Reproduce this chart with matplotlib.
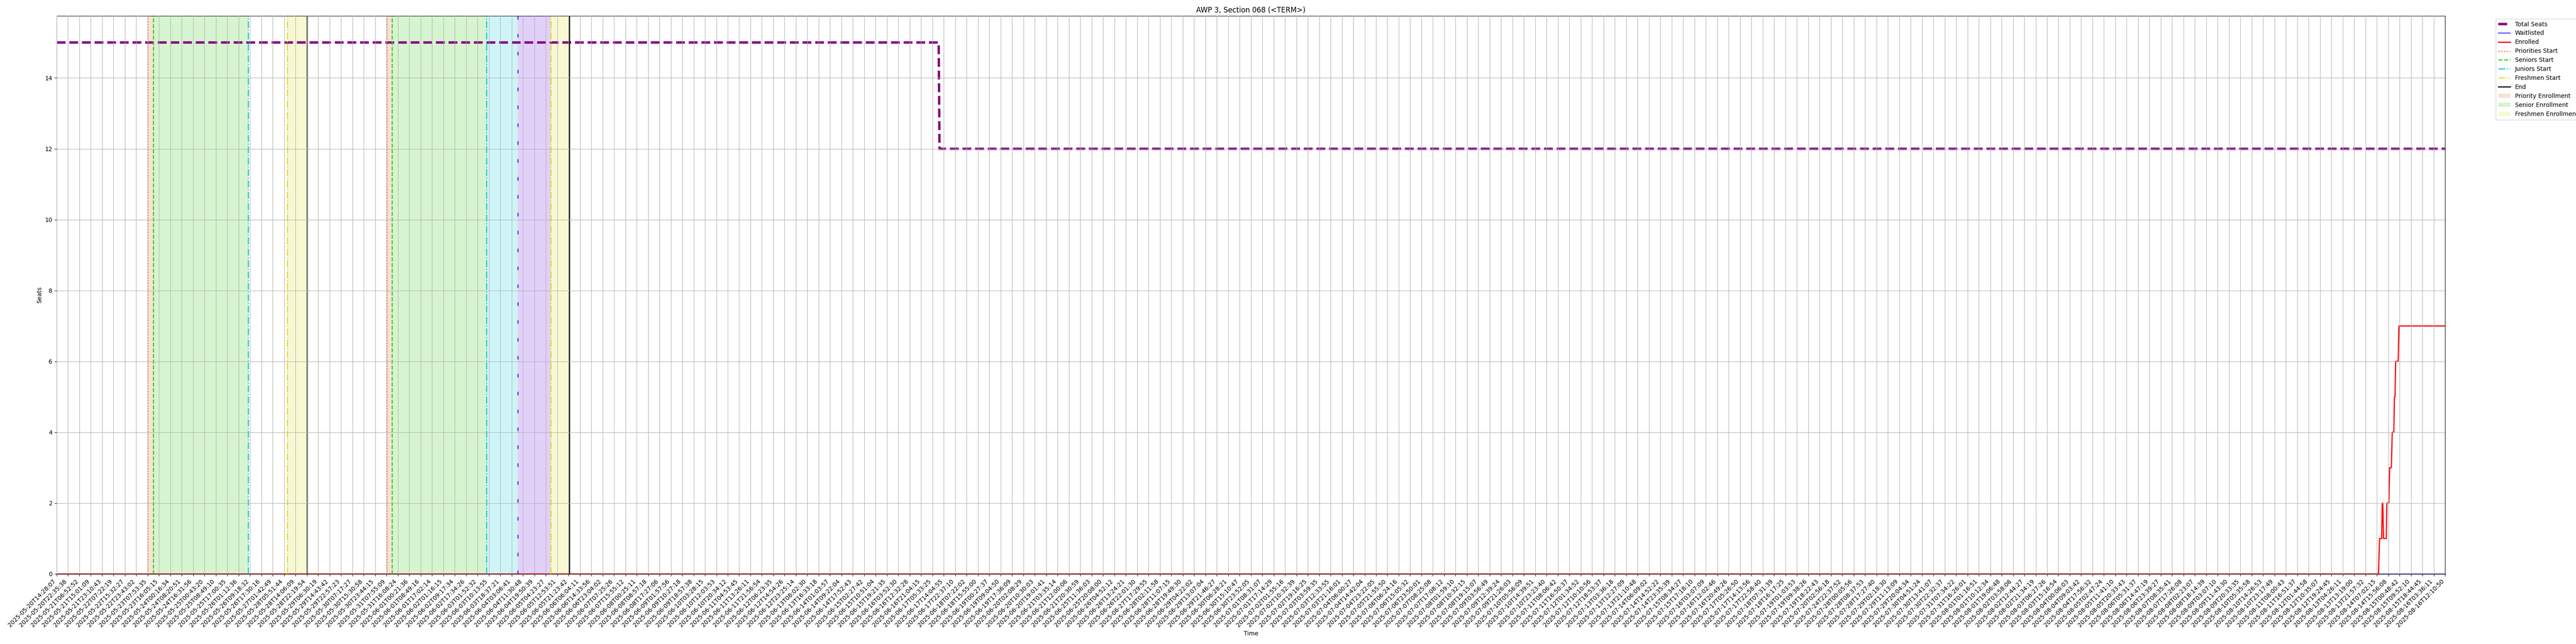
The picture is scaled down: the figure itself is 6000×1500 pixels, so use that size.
import matplotlib
matplotlib.use("Agg")
import matplotlib.pyplot as plt

# ---------------- data ----------------
tick_labels = [
    "2025-05-20T14:28:07", "2025-05-20T22:35:38", "2025-05-21T06:52:52", "2025-05-21T15:01:09",
    "2025-05-21T23:10:43", "2025-05-22T07:22:19", "2025-05-22T15:32:27", "2025-05-22T23:43:02",
    "2025-05-23T07:53:35", "2025-05-23T16:05:15", "2025-05-24T00:16:34", "2025-05-24T08:20:51",
    "2025-05-24T16:31:56", "2025-05-25T00:43:20", "2025-05-25T08:49:10", "2025-05-25T17:00:35",
    "2025-05-26T01:12:36", "2025-05-26T09:18:32", "2025-05-26T17:30:16", "2025-05-27T01:42:49",
    "2025-05-28T05:51:44", "2025-05-28T14:06:09", "2025-05-28T22:19:54", "2025-05-29T06:30:19",
    "2025-05-29T14:43:42", "2025-05-29T22:57:23", "2025-05-30T07:17:27", "2025-05-30T15:30:58",
    "2025-05-30T23:44:15", "2025-05-31T07:55:09", "2025-05-31T16:08:24", "2025-06-01T00:21:36",
    "2025-06-01T08:49:16", "2025-06-01T17:02:14", "2025-06-02T01:16:15", "2025-06-02T09:17:34",
    "2025-06-02T17:34:26", "2025-06-03T01:52:32", "2025-06-03T10:13:55", "2025-06-03T18:37:21",
    "2025-06-04T03:06:41", "2025-06-04T11:30:48", "2025-06-04T19:50:39", "2025-06-05T04:23:27",
    "2025-06-05T12:53:51", "2025-06-05T21:23:42", "2025-06-06T06:04:11", "2025-06-06T14:33:56",
    "2025-06-06T23:04:02", "2025-06-07T07:25:26", "2025-06-07T15:55:12", "2025-06-08T00:25:11",
    "2025-06-08T08:57:18", "2025-06-08T17:27:06", "2025-06-09T01:57:56", "2025-06-09T10:27:18",
    "2025-06-09T18:57:38", "2025-06-10T03:28:15", "2025-06-10T12:03:53", "2025-06-10T20:34:12",
    "2025-06-11T04:53:45", "2025-06-11T13:26:11", "2025-06-11T21:56:54", "2025-06-12T06:23:35",
    "2025-06-12T14:54:26", "2025-06-12T23:25:14", "2025-06-13T08:02:30", "2025-06-13T16:33:18",
    "2025-06-14T01:03:57", "2025-06-14T09:22:04", "2025-06-14T17:52:43", "2025-06-15T02:27:42",
    "2025-06-15T10:51:04", "2025-06-15T19:21:35", "2025-06-16T03:52:30", "2025-06-16T12:32:28",
    "2025-06-16T21:04:15", "2025-06-17T05:33:25", "2025-06-17T14:04:55", "2025-06-17T22:37:10",
    "2025-06-18T07:22:02", "2025-06-18T15:55:00", "2025-06-19T00:27:37", "2025-06-19T09:04:50",
    "2025-06-19T17:36:09", "2025-06-20T02:08:29", "2025-06-20T10:30:03", "2025-06-20T19:01:41",
    "2025-06-21T03:35:14", "2025-06-21T12:00:06", "2025-06-21T20:30:59", "2025-06-25T11:36:03",
    "2025-06-25T20:08:00", "2025-06-26T04:52:12", "2025-06-26T13:24:21", "2025-06-26T22:01:30",
    "2025-06-27T17:29:55", "2025-06-28T02:11:58", "2025-06-28T11:07:15", "2025-06-28T19:49:30",
    "2025-06-29T04:22:02", "2025-06-29T13:07:04", "2025-06-29T21:46:27", "2025-06-30T06:28:21",
    "2025-06-30T15:10:47", "2025-06-30T23:52:05", "2025-07-01T08:31:07", "2025-07-01T17:14:29",
    "2025-07-02T01:55:16", "2025-07-02T10:32:39", "2025-07-02T19:16:25", "2025-07-03T03:59:35",
    "2025-07-03T12:33:55", "2025-07-03T21:16:01", "2025-07-04T06:00:27", "2025-07-04T14:42:04",
    "2025-07-04T23:22:05", "2025-07-05T21:55:50", "2025-07-06T06:24:16", "2025-07-06T15:05:32",
    "2025-07-06T23:50:01", "2025-07-07T08:25:08", "2025-07-07T17:08:12", "2025-07-08T01:59:10",
    "2025-07-08T10:32:15", "2025-07-08T19:15:07", "2025-07-09T03:56:49", "2025-07-09T12:39:24",
    "2025-07-09T21:26:03", "2025-07-10T05:56:09", "2025-07-10T14:39:51", "2025-07-10T23:23:40",
    "2025-07-11T08:06:42", "2025-07-11T16:50:37", "2025-07-12T01:34:52", "2025-07-12T10:10:56",
    "2025-07-12T18:53:37", "2025-07-13T03:36:18", "2025-07-13T12:27:09", "2025-07-13T21:10:48",
    "2025-07-14T06:09:02", "2025-07-14T14:52:22", "2025-07-14T23:35:39", "2025-07-15T08:34:27",
    "2025-07-15T17:18:10", "2025-07-16T03:07:09", "2025-07-16T12:02:46", "2025-07-16T20:49:26",
    "2025-07-17T05:26:50", "2025-07-17T14:13:56", "2025-07-17T22:58:40", "2025-07-18T07:31:39",
    "2025-07-18T16:17:25", "2025-07-19T01:03:53", "2025-07-19T09:38:26", "2025-07-19T18:22:43",
    "2025-07-20T02:56:18", "2025-07-24T22:37:52", "2025-07-28T00:05:56", "2025-07-28T08:37:53",
    "2025-07-28T17:27:40", "2025-07-29T02:18:30", "2025-07-29T11:13:09", "2025-07-29T20:04:34",
    "2025-07-30T04:51:24", "2025-07-30T13:41:07", "2025-07-30T22:32:37", "2025-07-31T07:34:22",
    "2025-07-31T16:26:01", "2025-08-01T01:16:51", "2025-08-01T10:12:34", "2025-08-01T19:06:48",
    "2025-08-02T03:58:06", "2025-08-02T12:44:27", "2025-08-02T21:34:19", "2025-08-03T06:27:26",
    "2025-08-03T15:16:54", "2025-08-04T00:06:03", "2025-08-04T09:03:42", "2025-08-04T17:56:32",
    "2025-08-05T02:47:24", "2025-08-05T11:41:10", "2025-08-05T20:33:43", "2025-08-06T05:31:37",
    "2025-08-06T14:47:19", "2025-08-06T23:39:27", "2025-08-07T08:35:41", "2025-08-07T17:26:08",
    "2025-08-08T02:23:07", "2025-08-08T18:14:39", "2025-08-09T03:07:10", "2025-08-09T11:43:30",
    "2025-08-09T20:33:35", "2025-08-10T05:35:58", "2025-08-10T14:26:53", "2025-08-10T23:17:49",
    "2025-08-11T08:00:43", "2025-08-11T16:51:37", "2025-08-12T01:44:58", "2025-08-12T10:35:07",
    "2025-08-12T19:24:45", "2025-08-13T04:26:11", "2025-08-13T13:19:00", "2025-08-13T21:57:32",
    "2025-08-14T07:02:15", "2025-08-14T15:56:08", "2025-08-15T00:48:42", "2025-08-15T09:52:10",
    "2025-08-15T18:44:45", "2025-08-16T03:36:11", "2025-08-16T12:10:50",
]

# positions are in "tick index" units along the time axis
seats_x = [0, 77.55, 77.62, 210]
seats_y = [15, 15, 12, 12]

wait_x = [0, 210]
wait_y = [0, 0]

enr_x = [0, 204.14, 204.23, 204.42, 204.47, 204.52, 204.58, 204.82, 204.88, 205.05,
         205.12, 205.27, 205.35, 205.49, 205.54, 205.59, 205.65, 205.87, 205.94, 210]
enr_y = [0, 0, 1, 1, 2, 2, 1, 1, 2, 2,
         3, 3, 4, 4, 5, 5, 6, 6, 7, 7]

# enrollment phase boundaries (two rounds)
priority_start = [8.02, 29.02]
seniors_start = [8.50, 29.48]
juniors_start = [16.83, 37.77]
sophomores_start = [40.55]
freshmen_start = [20.27, 43.45]
end_times = [22.00, 45.06]

# ---------------- style ----------------
c_prio = "#e2692a"
c_sen = "#33cc11"
c_jun = "#11c8d8"
c_soph = "#7a2be0"
c_fresh = "#dddd22"

fig = plt.figure(figsize=(60, 15), dpi=100)
ax = fig.add_subplot(111)
fig.subplots_adjust(left=0.022, right=0.9492, bottom=0.1087, top=0.9753)

h_seats, = ax.plot(seats_x, seats_y, color="purple", linestyle="--", linewidth=4, label="Total Seats")
h_wait, = ax.plot(wait_x, wait_y, color="blue", linewidth=1.2, label="Waitlisted")
h_enr, = ax.plot(enr_x, enr_y, color="red", linewidth=2, label="Enrolled")

# shaded phases
s_prio = None
for a, b in zip(priority_start, seniors_start):
    s_prio = ax.axvspan(a, b, color=c_prio, alpha=0.2, lw=0)
s_sen = None
for a, b in zip(seniors_start, juniors_start):
    s_sen = ax.axvspan(a, b, color=c_sen, alpha=0.2, lw=0)
ax.axvspan(juniors_start[1], sophomores_start[0], color=c_jun, alpha=0.2, lw=0)
ax.axvspan(sophomores_start[0], freshmen_start[1], color=c_soph, alpha=0.22, lw=0)
s_fresh = None
for a, b in zip(freshmen_start, end_times):
    s_fresh = ax.axvspan(a, b, color=c_fresh, alpha=0.2, lw=0)

# vertical lines
for x in priority_start:
    h_prio = ax.axvline(x, color=c_prio, linestyle=":", linewidth=1.8)
for x in seniors_start:
    h_sen = ax.axvline(x, color=c_sen, linestyle="--", linewidth=1.8)
for x in juniors_start:
    h_jun = ax.axvline(x, color=c_jun, linestyle="-.", linewidth=1.8)
for x in sophomores_start:
    ax.axvline(x, color=c_soph, linestyle=(0, (3, 12)), linewidth=2)
for x in freshmen_start:
    h_fresh = ax.axvline(x, color=c_fresh, linestyle="-.", linewidth=1.8)
for x in end_times:
    h_end = ax.axvline(x, color="black", linestyle="-", linewidth=1.8)

ax.set_xlim(0, len(tick_labels) - 1)
ax.set_ylim(0, 15.75)
ax.set_xticks(range(len(tick_labels)))
ax.set_xticklabels(tick_labels, rotation=45, ha="right")
ax.grid(True)
ax.set_axisbelow(False)

ax.set_title("AWP 3, Section 068 (<TERM>)")
ax.set_xlabel("Time")
ax.set_ylabel("Seats")

handles = [h_seats, h_wait, h_enr, h_prio, h_sen, h_jun, h_fresh, h_end, s_prio, s_sen, s_fresh]
labels = ["Total Seats", "Waitlisted", "Enrolled", "Priorities Start", "Seniors Start",
          "Juniors Start", "Freshmen Start", "End", "Priority Enrollment",
          "Senior Enrollment", "Freshmen Enrollment"]
ax.legend(handles, labels, loc="upper left", bbox_to_anchor=(1.02, 1))

fig.savefig("out.png", dpi=100)
